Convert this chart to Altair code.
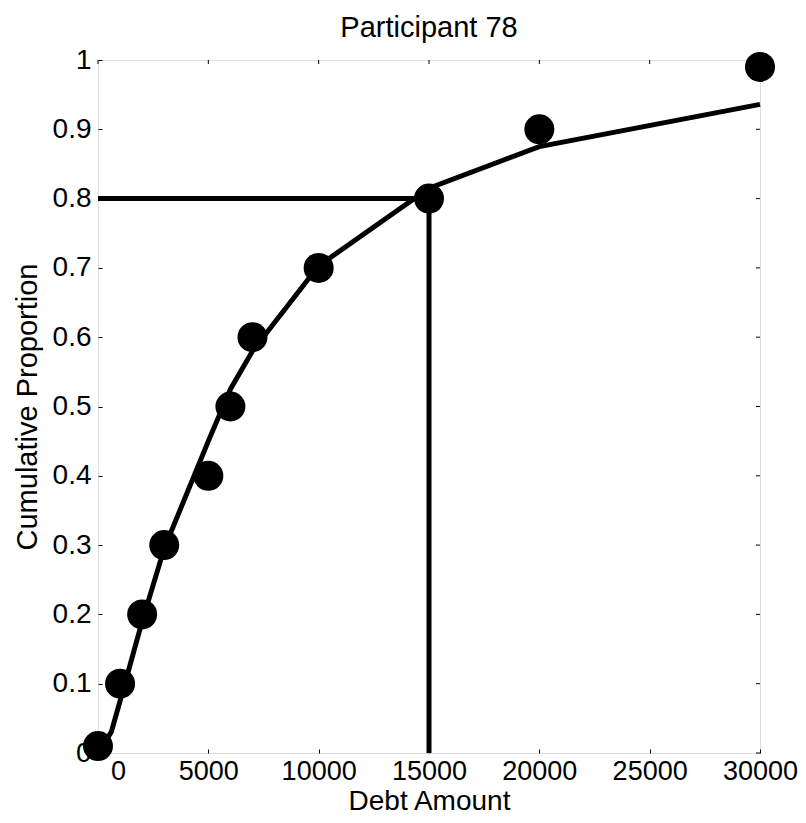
import altair as alt
import pandas as pd

# observed data points (debt amount, cumulative proportion)
point_x = [0, 1000, 2000, 3000, 5000, 6000, 7000, 10000, 15000, 20000, 30000]
point_y = [0.01, 0.1, 0.2, 0.3, 0.4, 0.5, 0.6, 0.7, 0.8, 0.9, 0.99]

# fitted curve
curve_x = [0, 600, 1000, 2000, 3000, 5000, 6000, 7000, 10000, 15000, 20000, 30000]
curve_y = [0.0, 0.03, 0.075, 0.19, 0.295, 0.45, 0.525, 0.58, 0.703, 0.815, 0.875, 0.936]

# threshold guide
thr_x = [15000]
thr_y = [0.8]

x_ticks = [0, 5000, 10000, 15000, 20000, 25000, 30000]
y_ticks = [0, 0.1, 0.2, 0.3, 0.4, 0.5, 0.6, 0.7, 0.8, 0.9, 1.0]

TITLE = "Participant 78"
FONT = "Liberation Sans"
W, H = 662, 693

pts = pd.DataFrame({"x": point_x, "y": point_y})
curve = pd.DataFrame({"x": curve_x, "y": curve_y})
hline = pd.DataFrame({"x": [0], "x2": thr_x, "y": thr_y})
vline = pd.DataFrame({"x": thr_x, "y": [0], "y2": thr_y})
xt = pd.DataFrame({"t": x_ticks})
yt = pd.DataFrame({"t": y_ticks})
tt = pd.DataFrame({"label": [TITLE]})

xs = alt.Scale(domain=[0, 30000], nice=False, zero=False)
ys = alt.Scale(domain=[0, 1], nice=False, zero=False)

xaxis = alt.Axis(
    values=x_ticks, format="d", title="Debt Amount", grid=False, domain=False,
    tickSize=alt.ExprRef(expr="-4"), tickColor="#000", tickWidth=1,
    labelFont=FONT, labelFontSize=27, labelColor="#000", labelPadding=9,
    labelOffset={"condition": {"test": "datum.value === 0", "value": 20}, "value": 0},
    labelFlush=False, labelOverlap=False,
    titleFont=FONT, titleFontSize=28, titleFontWeight="normal", titleColor="#000",
    titleBaseline="bottom", titleY=62,
)
yaxis = alt.Axis(
    values=y_ticks, format="~g", title="Cumulative Proportion", grid=False, domain=False,
    tickSize=alt.ExprRef(expr="-4"), tickColor="#000", tickWidth=1,
    labelFont=FONT, labelFontSize=28, labelColor="#000", labelPadding=11,
    labelFlush=False, labelOverlap=False,
    titleFont=FONT, titleFontSize=29, titleFontWeight="normal", titleColor="#000",
    titlePadding=10,
)

X = lambda f="x": alt.X(f"{f}:Q", scale=xs, axis=xaxis)
Y = lambda f="y": alt.Y(f"{f}:Q", scale=ys, axis=yaxis)

line = alt.Chart(curve).mark_line(color="#000", strokeWidth=5, clip=False).encode(x=X(), y=Y())
hrule = alt.Chart(hline).mark_rule(color="#000", strokeWidth=5).encode(
    x=X(), x2="x2:Q", y=Y())
vrule = alt.Chart(vline).mark_rule(color="#000", strokeWidth=5).encode(
    x=X(), y=Y(), y2="y2:Q")
dots = alt.Chart(pts).mark_circle(color="#000", opacity=1, size=900).encode(x=X(), y=Y())

top_ticks = alt.Chart(xt).mark_rule(color="#000", strokeWidth=1).encode(
    x=X("t"), y=alt.value(0), y2=alt.value(4))
right_ticks = alt.Chart(yt).mark_rule(color="#000", strokeWidth=1).encode(
    y=Y("t"), x=alt.value(W), x2=alt.value(W - 4))

title = alt.Chart(tt).mark_text(
    font=FONT, fontSize=29, color="#000", align="center", baseline="alphabetic"
).encode(text="label:N", x=alt.value(W / 2), y=alt.value(-23))

chart = alt.layer(top_ticks, right_ticks, hrule, vrule, line, dots, title).properties(
    width=W, height=H,
    autosize=alt.AutoSizeParams(type="none"),
    padding={"left": 90, "top": 52, "right": 38, "bottom": 62},
).configure_view(stroke="#000", strokeWidth=1).configure(background="white")

chart.save("out.html", embed_options={"renderer": "svg", "actions": False})
